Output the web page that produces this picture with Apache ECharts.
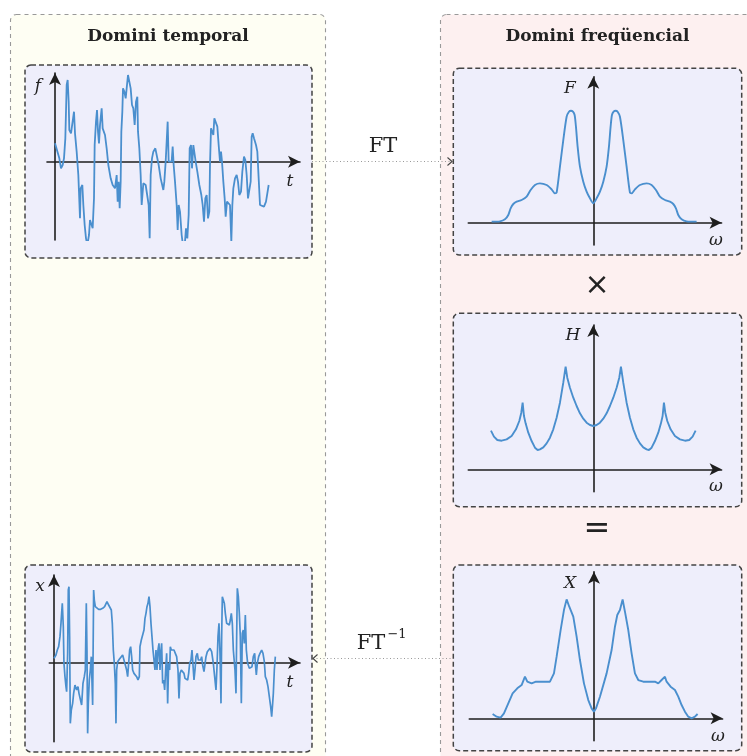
<!DOCTYPE html>
<html lang="ca">
<head>
  <meta charset="UTF-8">
  <title>Domini temporal / freqüencial</title>
  <style>
    html, body { margin: 0; padding: 0; background: #fff; }
    #main { width: 747px; height: 756px; }
  </style>
</head>
<body>
  <div id="main"></div>
  <script src="https://cdn.jsdelivr.net/npm/echarts@6/dist/echarts.min.js"></script>
  <script>
    // senyal f(t) (domini temporal, a dalt)
    var fSignal = [
      [0,55],[5,55],[13,10],[18,-20],[23,-10],[27,10],[31,70],[35,230],[38,245],[41,180],[43,95],[48,85],[53,90],[57,150],[60,85],
      [65,30],[70,-40],[75,-170],[77,-80],[82,-70],[85,-130],[89,-190],[93,-230],[97,-250],[102,-220],[105,-175],[109,-180],[113,-200],
      [117,-110],[119,50],[123,120],[126,155],[129,90],[132,55],[135,110],[140,160],[143,100],[150,80],[155,40],[160,-10],[167,-50],
      [173,-70],[180,-80],[185,-40],[188,-120],[191,-60],[194,-140],[197,-60],[199,90],[202,150],[204,220],[208,210],[212,190],[215,220],
      [219,260],[223,265],[227,220],[231,170],[235,160],[239,110],[243,180],[247,195],[249,90],[253,40],[257,-40],[260,-130],[265,-65],
      [272,-70],[277,-70],[281,-130],[284,-230],[287,-40],[291,10],[295,30],[301,40],[305,20],[311,-10],[317,-50],[320,-55],[325,-85],
      [328,-60],[332,0],[335,60],[338,120],[341,0],[345,-5],[350,0],[353,45],[356,-10],[360,-60],[365,-130],[368,-205],[371,-130],
      [375,-150],[380,-220],[385,-260],[390,-240],[393,-200],[397,-230],[401,-160],[404,40],[408,50],[411,-20],[415,50],[419,55],[422,0],
      [427,-30],[433,-70],[439,-100],[443,-130],[447,-180],[451,-110],[455,-100],[459,-170],[463,-150],[465,-10],[468,100],[471,105],
      [475,80],[478,130],[482,135],[487,105],[491,50],[495,0],[498,30],[501,0],[505,-60],[509,-110],[512,-165],[516,-120],[521,-120],
      [525,-130],[529,-240],[532,-130],[535,-80],[540,-50],[545,-40],[549,-60],[553,-100],[558,-90],[562,-30],[567,15],[571,5],[575,-40],
      [579,-110],[583,-115],[587,-60],[590,75],[593,85],[597,70],[603,50],[607,30],[611,-50],[615,-130],[621,-135],[627,-135],[633,-120],
      [637,-95],[641,-70]
    ];

    // senyal x(t) (domini temporal, a baix)
    var xSignal = [
      [0,13],[6,23],[10,38],[14,48],[18,78],[21,118],[25,178],[28,108],[30,-2],[33,-42],[36,-72],[38,-87],[41,28],[43,218],[45,228],
      [47,78],[49,-182],[52,-142],[56,-122],[59,-92],[63,-67],[68,-82],[72,-72],[75,-92],[79,-97],[83,-127],[87,-62],[91,-42],[94,-22],
      [97,178],[99,38],[101,-212],[103,-122],[106,-52],[109,-22],[112,18],[116,-127],[119,218],[121,188],[124,168],[129,163],[134,160],
      [140,160],[146,163],[152,168],[159,183],[164,173],[169,168],[172,158],[175,118],[178,38],[181,-2],[184,-62],[186,-182],[188,-22],
      [191,3],[196,10],[201,13],[206,23],[210,28],[214,-7],[218,-22],[221,-42],[224,-2],[227,38],[230,48],[233,18],[236,-22],[240,-32],
      [244,-27],[248,-42],[252,-52],[256,-42],[258,48],[262,68],[266,63],[270,98],[273,133],[276,148],[279,168],[282,178],[285,198],
      [288,168],[291,118],[294,78],[297,38],[300,8],[303,-22],[306,38],[309,-22],[312,38],[315,58],[318,-22],[321,38],[323,58],[326,-62],
      [329,-52],[332,-82],[335,-22],[338,28],[341,-122],[344,-2],[347,-22],[349,48],[352,38],[356,33],[360,38],[364,28],[368,18],
      [372,-22],[375,-107],[378,-32],[382,-22],[386,-27],[390,-32],[393,-47],[397,-52],[401,-52],[404,-32],[407,-2],[411,8],[414,38],
      [417,43],[420,-52],[423,-22],[426,18],[430,28],[433,8],[436,13],[440,8],[443,18],[446,-7],[450,-27],[453,-22],[456,18],[460,33],
      [464,38],[468,43],[473,33],[478,-2],[482,-42],[486,-82],[489,-12],[492,78],[495,118],[498,28],[501,-122],[503,78],[505,198],
      [508,188],[511,178],[514,148],[518,118],[522,113],[526,113],[529,128],[532,148],[535,118],[538,38],[543,-22],[546,-92],[548,78],
      [550,223],[553,198],[556,148],[559,78],[562,-122],[565,88],[568,98],[571,58],[574,143],[577,38],[581,-2],[586,-17],[590,-22],
      [594,-12],[598,18],[602,28],[604,-2],[607,-37],[610,-2],[614,18],[618,28],[623,38],[627,28],[631,3],[634,-42],[638,-52],[642,-72],
      [646,-102],[650,-132],[653,-162],[656,-122],[658,-92],[661,-22],[664,18]
    ];

    // espectre F(w)
    var fSpectrum = [
      [-305,3],[-280,4],[-265,10],[-255,23],[-248,43],[-240,56],[-230,63],[-215,68],[-200,78],[-188,98],[-175,113],[-160,118],
      [-140,113],[-125,100],[-115,88],[-110,90],[-100,168],[-90,248],[-80,318],[-73,333],[-67,336],[-61,333],[-56,323],[-52,288],
      [-47,228],[-40,168],[-30,123],[-20,93],[-10,73],[0,58],
      [10,73],[20,93],[30,123],[40,168],[47,228],[52,288],[56,323],[61,333],[67,336],[73,333],[80,318],[90,248],[100,168],[110,90],
      [115,88],[125,100],[140,113],[160,118],[175,113],[188,98],[200,78],[215,68],[230,63],[240,56],[248,43],[255,23],[265,10],
      [280,4],[310,3]
    ];

    // filtre H(w)
    var hFilter = [
      [-307,116],[-298,98],[-288,88],[-275,86],[-260,90],[-245,100],[-232,120],[-222,145],[-216,170],[-212,200],[-208,160],[-203,138],
      [-195,110],[-185,85],[-175,65],[-167,58],[-160,60],[-150,66],[-140,78],[-130,95],[-120,120],[-110,155],[-100,200],[-90,260],
      [-83,308],[-78,275],[-70,245],[-60,215],[-50,190],[-40,168],[-30,152],[-20,140],[-10,133],[0,130],
      [10,133],[20,140],[30,152],[40,168],[50,190],[60,215],[70,245],[78,275],[83,308],[90,260],[100,200],[110,155],[120,120],
      [130,95],[140,78],[150,66],[160,60],[167,58],[175,65],[185,85],[195,110],[203,138],[208,160],[212,200],[216,170],[222,145],
      [232,120],[245,100],[260,90],[275,86],[288,88],[298,98],[307,116]
    ];

    // producte X(w)
    var xSpectrum = [
      [-304,13],[-292,5],[-280,2],[-270,15],[-257,45],[-244,75],[-230,90],[-217,100],[-207,125],[-200,110],[-187,105],[-174,110],
      [-152,110],[-132,110],[-120,135],[-112,185],[-100,265],[-90,325],[-82,357],[-74,335],[-62,305],[-52,245],[-42,175],[-30,105],
      [-17,55],[-7,30],[0,20],
      [6,30],[18,65],[38,135],[53,205],[63,275],[70,310],[78,325],[86,357],[93,320],[103,265],[113,195],[123,135],[133,115],
      [148,110],[168,110],[183,110],[193,105],[203,115],[213,125],[218,110],[230,95],[243,85],[253,65],[263,40],[273,20],[283,5],
      [293,0],[303,5],[311,13]
    ];

    var blue = '#4a8fce';
    var axisColor = '#1e1e1e';

    var myChart = echarts.init(document.getElementById('main'));

    // eixos amb fletxa, sense marques
    function makeAxis(idx, min, max) {
      return {
        type: 'value', gridIndex: idx, min: min, max: max,
        axisLine: { onZero: true, symbol: ['none', 'arrow'], symbolSize: [9, 12], lineStyle: { color: axisColor, width: 1.6 } },
        axisTick: { show: false }, axisLabel: { show: false }, splitLine: { show: false }
      };
    }
    function makeLine(idx, data, w) {
      return {
        type: 'line', xAxisIndex: idx, yAxisIndex: idx, data: data,
        showSymbol: false, silent: true, animation: false,
        lineStyle: { color: blue, width: w }
      };
    }

    function panel(x, y, w, h) {
      return {
        type: 'rect', z: -10,
        shape: { x: x, y: y, width: w, height: h, r: 6 },
        style: { fill: '#eeeefb', stroke: '#444', lineWidth: 1.5, lineDash: [5, 3] }
      };
    }
    function label(txt, x, y, font) {
      return {
        type: 'text', z: 100, x: x, y: y,
        style: { text: txt, fill: '#222', font: font, textAlign: 'center', textVerticalAlign: 'middle' }
      };
    }
    var ital = 'italic 17px "DejaVu Serif"';

    var option = {
      animation: false,
      backgroundColor: '#ffffff',
      grid: [
        { left: 47, top: 73, width: 253, height: 167 },
        { left: 49.3, top: 575, width: 250.7, height: 166.7 },
        { left: 468.3, top: 76.7, width: 253.3, height: 168.3 },
        { left: 468.3, top: 325, width: 253.3, height: 166.7 },
        { left: 469.3, top: 571.7, width: 253.3, height: 169 }
      ],
      xAxis: [
        makeAxis(0, -24, 735),
        makeAxis(1, -14, 738),
        makeAxis(2, -375, 385),
        makeAxis(3, -375, 385),
        makeAxis(4, -374, 386)
      ],
      yAxis: [
        makeAxis(0, -235, 266),
        makeAxis(1, -237, 263),
        makeAxis(2, -67, 438),
        makeAxis(3, -67, 433),
        makeAxis(4, -67, 440)
      ],
      series: [
        makeLine(0, fSignal, 1.8),
        makeLine(1, xSignal, 1.7),
        Object.assign(makeLine(2, fSpectrum, 1.9), { smooth: 0.25 }),
        makeLine(3, hFilter, 1.9),
        makeLine(4, xSpectrum, 1.9)
      ],
      graphic: [
        // panells grans
        { type: 'rect', z: -20, shape: { x: 10.5, y: 14.5, width: 315, height: 800, r: 6 },
          style: { fill: '#fefef3', stroke: '#999', lineWidth: 1.1, lineDash: [4, 4] } },
        { type: 'rect', z: -20, shape: { x: 440.5, y: 14.5, width: 400, height: 800, r: 6 },
          style: { fill: '#fdf0f0', stroke: '#999', lineWidth: 1.1, lineDash: [4, 4] } },
        // panells petits
        panel(25, 65, 287, 193),
        panel(25, 565, 287, 187),
        panel(453.3, 68.3, 288.4, 186.7),
        panel(453.3, 313.3, 288.4, 193.4),
        panel(453.3, 565, 288.4, 185.7),
        // titols
        label('Domini temporal', 168, 37, 'bold 17px "DejaVu Serif"'),
        label('Domini freqüencial', 597.5, 37, 'bold 17px "DejaVu Serif"'),
        // noms dels eixos
        label('f', 38, 87, ital),
        label('t', 290, 182, ital),
        label('x', 40, 587, ital),
        label('t', 290, 683, ital),
        label('F', 570, 89, ital),
        label('ω', 716, 241, ital),
        label('H', 573, 336, ital),
        label('ω', 716, 487, ital),
        label('X', 570, 584, ital),
        label('ω', 718, 737, ital),
        // operacions
        label('×', 597, 286, '30px "DejaVu Sans"'),
        label('=', 597, 530, '32px "DejaVu Sans"'),
        // fletxes FT
        { type: 'line', z: 50, shape: { x1: 312, y1: 161.5, x2: 452, y2: 161.5 },
          style: { stroke: '#999', lineWidth: 1, lineDash: [1, 2.5] } },
        { type: 'polyline', z: 50, shape: { points: [[447.5, 157.5], [452, 161.5], [447.5, 165.5]] },
          style: { stroke: '#444', lineWidth: 1.1, fill: null } },
        label('FT', 383, 147, '21px "DejaVu Serif"'),
        { type: 'line', z: 50, shape: { x1: 313, y1: 658.5, x2: 453, y2: 658.5 },
          style: { stroke: '#999', lineWidth: 1, lineDash: [1, 2.5] } },
        { type: 'polyline', z: 50, shape: { points: [[317.5, 654.5], [313, 658.5], [317.5, 662.5]] },
          style: { stroke: '#444', lineWidth: 1.1, fill: null } },
        label('FT', 371, 644, '21px "DejaVu Serif"'),
        label('−1', 397, 635, '13px "DejaVu Serif"')
      ]
    };

    myChart.setOption(option);
  </script>
</body>
</html>
